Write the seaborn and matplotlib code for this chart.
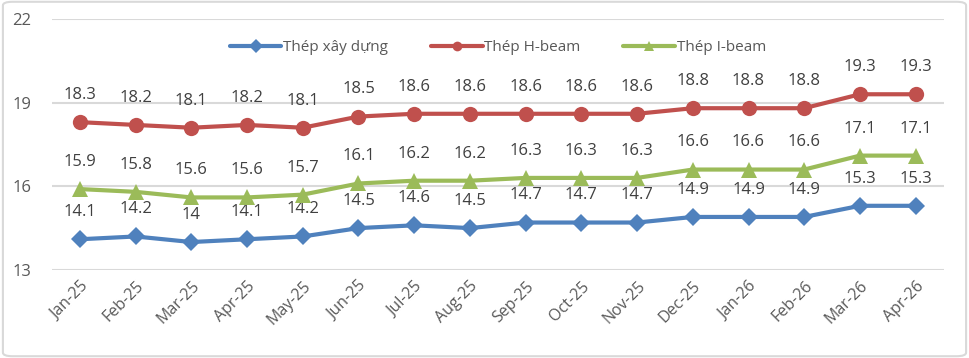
import matplotlib
matplotlib.use("Agg")
import matplotlib.pyplot as plt
import seaborn as sns
import pandas as pd
from matplotlib.patches import FancyBboxPatch

months = ["Jan-25", "Feb-25", "Mar-25", "Apr-25", "May-25", "Jun-25", "Jul-25", "Aug-25",
          "Sep-25", "Oct-25", "Nov-25", "Dec-25", "Jan-26", "Feb-26", "Mar-26", "Apr-26"]
thep_xay_dung = [14.1, 14.2, 14, 14.1, 14.2, 14.5, 14.6, 14.5, 14.7, 14.7, 14.7, 14.9, 14.9, 14.9, 15.3, 15.3]
thep_h_beam = [18.3, 18.2, 18.1, 18.2, 18.1, 18.5, 18.6, 18.6, 18.6, 18.6, 18.6, 18.8, 18.8, 18.8, 19.3, 19.3]
thep_i_beam = [15.9, 15.8, 15.6, 15.6, 15.7, 16.1, 16.2, 16.2, 16.3, 16.3, 16.3, 16.6, 16.6, 16.6, 17.1, 17.1]
series_names = ["Thép xây dựng", "Thép H-beam", "Thép I-beam"]
yticks = [13, 16, 19, 22]

sns.set_theme(style="white")
plt.rcParams['font.family'] = ['Open Sans', 'DejaVu Sans']

df = pd.DataFrame({
    "month": months * 3,
    "idx": list(range(len(months))) * 3,
    "value": thep_xay_dung + thep_h_beam + thep_i_beam,
    "series": [series_names[0]] * 16 + [series_names[1]] * 16 + [series_names[2]] * 16,
})

colors = {"Thép xây dựng": "#4F81BD", "Thép H-beam": "#C0504D", "Thép I-beam": "#9BBB59"}
markers = {"Thép xây dựng": "D", "Thép H-beam": "o", "Thép I-beam": "^"}
msizes = {"Thép xây dựng": 9, "Thép H-beam": 11, "Thép I-beam": 11}

fig = plt.figure(figsize=(9.69, 3.58), dpi=100)
ax = fig.add_axes([0.0537, 0.246, 0.920, 0.701])

text_color = "#595959"
for name in series_names:
    sub = df[df.series == name]
    sns.lineplot(data=sub, x="idx", y="value", ax=ax, color=colors[name], linewidth=3.0,
                 marker=markers[name], markersize=msizes[name], markeredgewidth=0,
                 label=name, zorder=3)
    for xi, v in zip(sub.idx, sub.value):
        ax.annotate(f"{v:g}", (xi, v), xytext=(0, 19.5), textcoords="offset points",
                    ha="center", va="center", fontsize=12, color="#404040")

ax.set_xlim(-0.5, len(months) - 0.5)
ax.set_ylim(13, 22)
ax.set_yticks(yticks)
ax.set_yticklabels([str(t) for t in yticks], fontsize=12, color=text_color)
ax.set_xticks(range(len(months)))
ax.set_xticklabels(months, rotation=45, ha="right", rotation_mode="anchor", fontsize=11.5, color=text_color)
ax.tick_params(axis="both", length=0, pad=6)
ax.tick_params(axis="y", pad=15)
ax.grid(axis="y", color="#D9D9D9", linewidth=1.5)
ax.set_axisbelow(True)
ax.set_xlabel("")
ax.set_ylabel("")
for s in ax.spines.values():
    s.set_visible(False)

leg = ax.legend(loc="upper center", bbox_to_anchor=(0.5, 0.97), ncol=3, frameon=False,
                fontsize=11, handlelength=3.4, handletextpad=0.1, columnspacing=2.8)
for t in leg.get_texts():
    t.set_color(text_color)
for h in leg.legend_handles:
    h.set_markersize(7)

border = FancyBboxPatch((0.003, 0.005), 0.994, 0.99, boxstyle="round,pad=0,rounding_size=0.01",
                        transform=fig.transFigure, fill=False, edgecolor="#D9D9D9", linewidth=1.5)
fig.patches.append(border)

fig.savefig("out.png", dpi=100)
